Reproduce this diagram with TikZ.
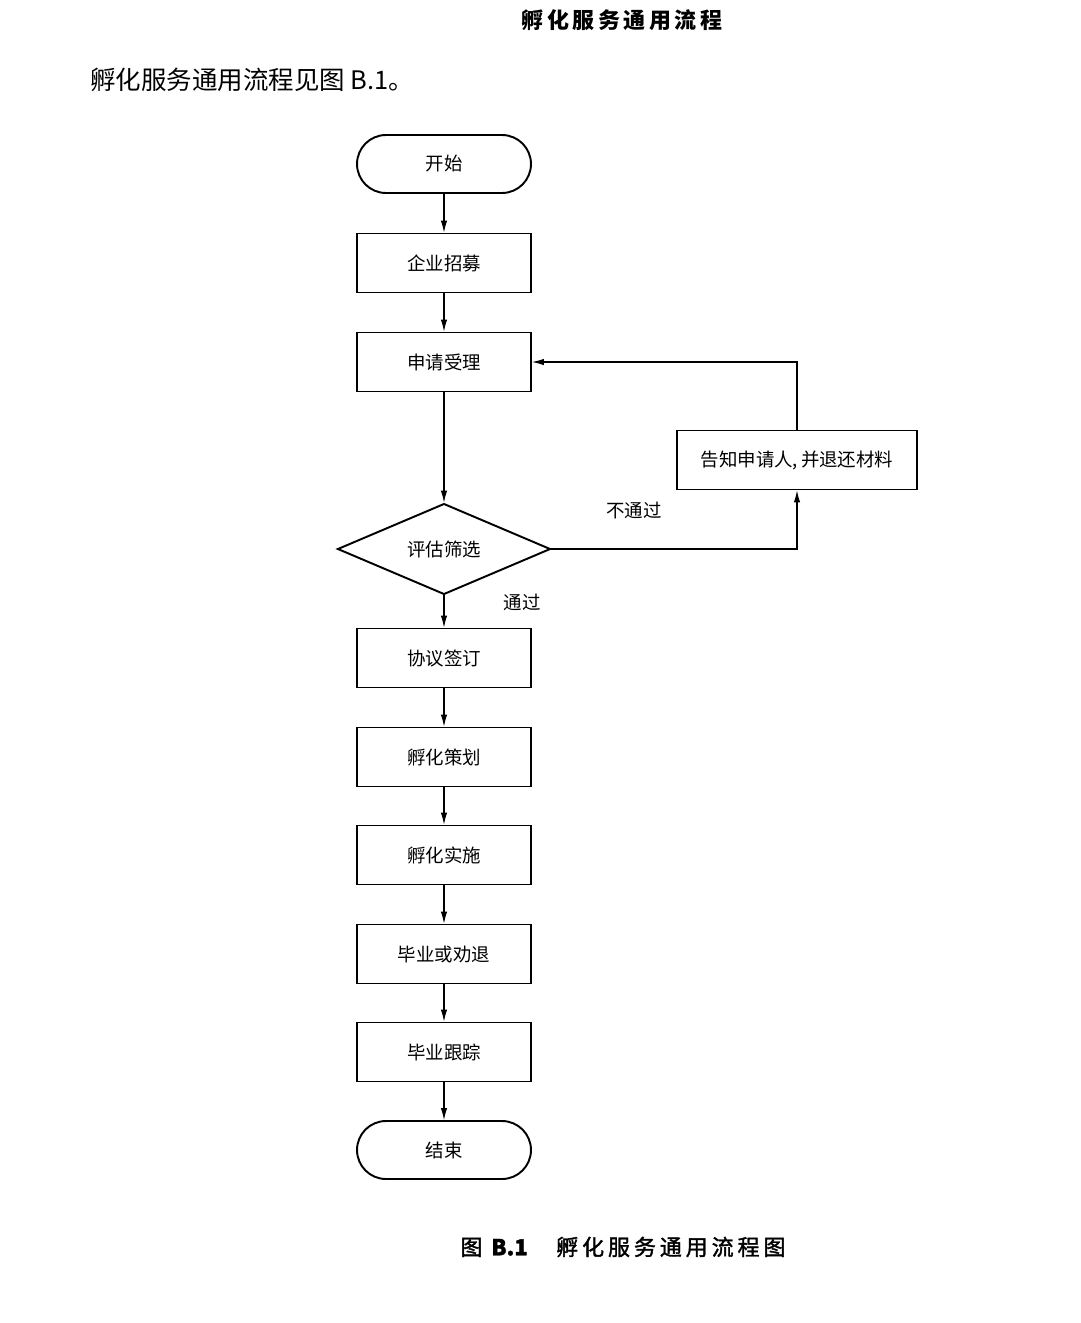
\documentclass[tikz,border=0pt]{standalone}
\usepackage{fontspec}
\setmainfont{Noto Sans CJK SC}
\newfontfamily\ttlfont[LetterSpace=16]{Noto Sans CJK SC}
\newfontfamily\capfont[LetterSpace=18,FakeBold=1.6]{Noto Sans CJK SC}
\newfontfamily\capplain[FakeBold=1.6]{Noto Sans CJK SC}
\usepackage{tikz}
\usetikzlibrary{shapes.geometric,arrows.meta,positioning,calc}

\begin{document}
\begin{tikzpicture}[x=0.02cm,y=-0.02cm,font=\fontsize{10.5}{12}\selectfont,>={Latex[length=2.4mm,width=1.3mm]},
  blk/.style={draw,line width=1.1pt,minimum width=3.48cm,minimum height=1.18cm,align=center,inner sep=1pt},
  term/.style={blk,rounded corners=0.58cm,minimum height=1.16cm},
  dec/.style={diamond,draw,line width=1.1pt,minimum width=4.26cm,minimum height=1.58cm,inner sep=0pt},
  ret/.style={blk,minimum width=4.8cm},
  ln/.style={->,line width=0.6pt},
  lbl/.style={font=\fontsize{10.5}{12}\selectfont}]
\useasboundingbox (0,0) rectangle (1080,1323);
% page text
\node[font=\ttlfont\bfseries\fontsize{12.5}{14}\selectfont] (ttl) at (622,20) {孵化服务通用流程};
\node[anchor=west,font=\fontsize{14.5}{16}\selectfont,inner sep=0pt] (ref) at (90,80) {孵化服务通用流程见图 B.1。};
% flow
\node[term] (start)  at (444,164)  {开始};
\node[blk]  (recr)   at (444,263)  {企业招募};
\node[blk]  (accept) at (444,362)  {申请受理};
\node[dec]  (eval)   at (444,549)  {评估筛选};
\node[blk]  (sign)   at (444,658)  {协议签订};
\node[blk]  (plan)   at (444,757)  {孵化策划};
\node[blk]  (impl)   at (444,855)  {孵化实施};
\node[blk]  (grad)   at (444,954)  {毕业或劝退};
\node[blk]  (track)  at (444,1052) {毕业跟踪};
\node[term] (stop)   at (444,1150) {结束};
\node[ret]  (back)   at (797,460)  {告知申请人,\,并退还材料};
\draw[ln] (start) -- (recr);
\draw[ln] (recr) -- (accept);
\draw[ln] (accept) -- (eval);
\draw[ln] (eval) -- (sign);
\draw[ln] (sign) -- (plan);
\draw[ln] (plan) -- (impl);
\draw[ln] (impl) -- (grad);
\draw[ln] (grad) -- (track);
\draw[ln] (track) -- (stop);
\draw[ln] (eval.east) -| (back.south);
\draw[ln] (back.north) |- (accept.east);
\node[lbl] (nopass) at (634,510) {不通过};
\node[lbl] (pass)   at (522,602) {通过};
% caption
\node[font=\capfont\fontsize{12.5}{14}\selectfont] (cap) at (623,1247) {图 {\capplain\bfseries B.1}\hspace{1.3em}孵化服务通用流程图};
\end{tikzpicture}
\end{document}
